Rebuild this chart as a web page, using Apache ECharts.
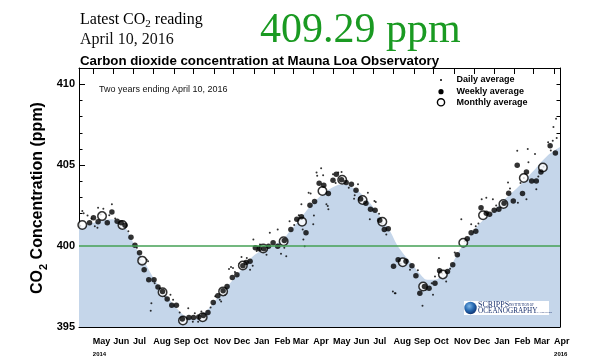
<!DOCTYPE html>
<html>
<head>
<meta charset="utf-8">
<script src="https://cdn.jsdelivr.net/npm/echarts@6/dist/echarts.min.js"></script>
<style>
html,body{margin:0;padding:0;background:#fff;}
#chart{width:600px;height:360px;}
</style>
</head>
<body>
<div id="chart"></div>
<script>
// ---------------- data ----------------
const xStart = '2014-04-10';
const xEnd = '2016-04-10';
const yMin = 395;
const yMax = 411;
const yTickLabels = [395, 400, 405, 410];
const monthNames = ['Jan','Feb','Mar','Apr','May','Jun','Jul','Aug','Sep','Oct','Nov','Dec'];
const yearMarks = [['2014-05', '2014'], ['2016-04', '2016']];
const referenceLevel = 400;
const latestValue = '409.29 ppm';
const latestDate = 'April 10, 2016';

// smooth fit curve (upper edge of blue area)
const fitCurve = [
  ['2014-04-10',401.15],['2014-05-04',401.46],['2014-05-30',401.65],['2014-06-19',401.15],
  ['2014-07-04',400.00],['2014-07-19',398.98],['2014-08-03',397.92],['2014-08-19',397.05],
  ['2014-09-03',396.26],['2014-09-18',395.68],['2014-10-03',395.50],['2014-10-18',395.87],
  ['2014-10-31',396.49],['2014-11-15',397.17],['2014-11-30',397.92],['2014-12-15',398.66],
  ['2014-12-30',399.35],['2015-01-15',399.78],['2015-01-30',400.03],['2015-02-14',400.40],
  ['2015-02-24',400.90],['2015-03-09',401.52],['2015-03-27',402.45],['2015-04-19',403.32],
  ['2015-05-04',403.70],['2015-05-15',403.82],['2015-05-30',403.63],['2015-06-19',403.00],
  ['2015-07-11',401.85],['2015-07-27',400.90],['2015-08-06',400.09],['2015-08-18',399.41],
  ['2015-08-31',398.79],['2015-09-10',398.29],['2015-09-21',397.92],['2015-10-03',397.92],
  ['2015-10-15',398.23],['2015-10-29',398.91],['2015-11-10',399.78],['2015-11-25',400.65],
  ['2015-12-10',401.40],['2015-12-29',402.08],['2016-01-17',402.89],['2016-02-09',403.76],
  ['2016-03-03',404.75],['2016-03-23',405.62],['2016-04-10',406.12]
];

const monthlyAvg = [
  ['2014-04-15',401.30],['2014-05-15',401.85],['2014-06-15',401.30],['2014-07-15',399.10],
  ['2014-08-15',397.15],['2014-09-15',395.40],['2014-10-15',395.60],['2014-11-15',397.20],
  ['2014-12-15',398.80],['2015-01-15',399.85],['2015-02-15',400.30],['2015-03-15',401.50],
  ['2015-04-15',403.40],['2015-05-15',404.10],['2015-06-15',402.85],['2015-07-15',401.50],
  ['2015-08-15',399.00],['2015-09-15',397.50],['2015-10-15',398.25],['2015-11-15',400.20],
  ['2015-12-15',401.90],['2016-01-15',402.60],['2016-02-15',404.20],['2016-03-15',404.85]
];

const weeklyAvg = [
  ['2014-04-26',401.44],['2014-05-02',401.75],['2014-05-09',401.50],['2014-05-23',401.44],
  ['2014-05-30',402.10],['2014-06-07',401.54],['2014-06-13',401.44],['2014-06-19',401.29],
  ['2014-06-28',400.55],['2014-07-04',400.05],['2014-07-11',399.58],['2014-07-18',398.54],
  ['2014-07-25',397.92],['2014-08-02',397.92],['2014-08-08',397.47],['2014-08-15',397.19],
  ['2014-08-22',396.73],['2014-08-29',396.35],['2014-09-05',396.34],['2014-09-14',395.50],
  ['2014-09-24',395.58],['2014-10-01',395.58],['2014-10-09',395.62],['2014-10-16',395.71],
  ['2014-10-23',395.89],['2014-10-31',396.51],['2014-11-07',396.93],['2014-11-15',397.24],
  ['2014-11-21',397.50],['2014-11-29',398.06],['2014-12-06',398.23],['2014-12-15',398.79],
  ['2014-12-20',398.99],['2014-12-26',399.06],['2015-01-03',399.89],['2015-01-09',399.83],
  ['2015-01-16',399.84],['2015-01-23',399.99],['2015-01-30',400.20],['2015-02-06',399.99],
  ['2015-02-16',400.34],['2015-02-26',401.02],['2015-03-07',401.65],['2015-03-14',401.81],
  ['2015-03-21',400.82],['2015-03-27',402.52],['2015-04-03',402.75],['2015-04-10',403.88],
  ['2015-04-17',403.76],['2015-04-24',403.24],['2015-05-01',404.07],['2015-05-06',404.44],
  ['2015-05-14',404.10],['2015-05-21',403.93],['2015-05-29',403.82],['2015-06-05',403.45],
  ['2015-06-12',402.90],['2015-06-20',402.64],['2015-06-27',402.27],['2015-07-04',402.22],
  ['2015-07-11',401.60],['2015-07-18',401.02],['2015-07-24',401.07],['2015-08-01',398.75],
  ['2015-08-08',399.16],['2015-08-20',399.06],['2015-08-29',398.79],['2015-09-04',398.17],
  ['2015-09-10',397.09],['2015-09-17',397.50],['2015-09-24',397.40],['2015-10-03',397.71],
  ['2015-10-10',398.48],['2015-10-22',398.43],['2015-10-30',398.85],['2015-11-06',399.47],
  ['2015-11-21',400.45],['2015-11-27',400.82],['2015-12-04',400.92],['2015-12-12',402.37],
  ['2015-12-20',402.02],['2015-12-25',401.96],['2016-01-01',402.22],['2016-01-08',402.27],
  ['2016-01-16',402.64],['2016-01-23',403.26],['2016-01-30',402.78],['2016-02-05',405.00],
  ['2016-02-13',403.24],['2016-02-19',404.58],['2016-02-27',404.02],['2016-03-05',404.02],
  ['2016-03-12',404.58],['2016-03-26',406.20],['2016-04-03',405.75]
];

const dailyAvg = [
  ['2014-04-12',401.25],['2014-04-15',402.16],['2014-04-17',402.02],['2014-04-23',401.89],
  ['2014-04-29',401.70],['2014-05-04',401.23],['2014-05-08',401.13],['2014-05-09',402.37],
  ['2014-05-13',401.95],['2014-05-17',402.31],['2014-05-26',401.90],['2014-05-30',402.58],
  ['2014-06-04',401.70],['2014-06-12',401.13],['2014-06-16',401.45],['2014-06-24',400.92],
  ['2014-07-07',399.90],['2014-07-11',399.16],['2014-07-15',398.90],['2014-07-22',399.16],
  ['2014-07-24',399.06],['2014-07-28',396.01],['2014-07-29',396.47],['2014-08-03',397.71],
  ['2014-08-11',397.40],['2014-08-18',396.90],['2014-08-27',396.99],['2014-08-31',396.68],
  ['2014-09-10',395.90],['2014-09-19',395.50],['2014-09-23',396.16],['2014-09-30',395.33],
  ['2014-10-03',395.85],['2014-10-08',395.33],['2014-10-13',395.95],['2014-10-19',395.50],
  ['2014-10-27',396.20],['2014-11-03',396.90],['2014-11-10',396.68],['2014-11-12',396.57],
  ['2014-11-18',397.00],['2014-11-24',398.58],['2014-11-27',398.71],['2014-11-30',398.65],
  ['2014-12-03',398.40],['2014-12-10',398.90],['2014-12-13',399.33],['2014-12-21',399.27],
  ['2014-12-26',398.54],['2014-12-30',398.79],['2014-12-31',400.40],['2015-01-05',399.70],
  ['2015-01-10',400.09],['2015-01-13',400.00],['2015-01-20',399.47],['2015-01-25',400.82],
  ['2015-02-06',401.02],['2015-02-11',399.53],['2015-02-16',399.89],['2015-02-19',399.37],
  ['2015-02-24',401.54],['2015-03-03',401.30],['2015-03-10',401.90],['2015-03-14',402.58],
  ['2015-03-16',401.02],['2015-03-17',400.40],['2015-03-19',399.99],['2015-03-25',403.30],
  ['2015-03-28',403.24],['2015-04-01',401.34],['2015-04-02',401.89],['2015-04-06',404.55],
  ['2015-04-07',404.34],['2015-04-13',404.80],['2015-04-16',404.38],['2015-04-21',402.58],
  ['2015-04-23',402.47],['2015-04-24',402.27],['2015-05-01',404.44],['2015-05-05',403.90],
  ['2015-05-09',404.55],['2015-05-14',404.58],['2015-05-25',403.60],['2015-06-02',402.93],
  ['2015-06-03',403.14],['2015-06-08',403.82],['2015-06-14',402.90],['2015-06-23',403.30],
  ['2015-06-26',401.65],['2015-07-03',402.78],['2015-07-05',402.72],['2015-07-10',402.00],
  ['2015-07-14',401.40],['2015-07-21',400.71],['2015-07-31',397.19],['2015-08-03',397.09],
  ['2015-08-04',397.09],['2015-08-12',398.90],['2015-08-21',399.16],['2015-08-26',398.54],
  ['2015-09-07',398.50],['2015-09-14',396.32],['2015-09-19',397.30],['2015-09-28',397.71],
  ['2015-09-30',396.99],['2015-10-03',398.12],['2015-10-09',399.27],['2015-10-14',398.30],
  ['2015-10-20',397.81],['2015-10-26',398.60],['2015-11-02',399.60],['2015-11-12',401.65],
  ['2015-11-17',400.30],['2015-11-27',401.34],['2015-12-04',401.23],['2015-12-08',401.40],
  ['2015-12-13',402.89],['2015-12-20',402.99],['2015-12-30',402.89],['2016-01-04',402.50],
  ['2016-01-12',402.40],['2016-01-22',403.93],['2016-01-25',403.55],['2016-02-05',405.89],
  ['2016-02-06',402.68],['2016-02-10',403.90],['2016-02-15',404.20],['2016-02-19',402.89],
  ['2016-02-21',405.99],['2016-02-22',405.17],['2016-03-03',405.68],['2016-03-05',403.51],
  ['2016-03-08',404.30],['2016-03-16',404.90],['2016-03-23',406.41],['2016-03-27',405.90],
  ['2016-03-30',406.51],['2016-03-31',407.36],['2016-04-04',407.86],['2016-04-05',406.68]
];

// ---------------- chart ----------------
const DAY = 86400000;
const sans = "'Liberation Sans', Arial, Helvetica, sans-serif";
const serif = "'Liberation Serif', 'Times New Roman', Times, serif";

const yearLookup = {};
yearMarks.forEach(function (p) { yearLookup[p[0]] = p[1]; });

function monthLabel(value) {
  const d = new Date(value);
  if (d.getDate() !== 1) return '';
  const key = d.getFullYear() + '-' + String(d.getMonth() + 1).padStart(2, '0');
  const m = monthNames[d.getMonth()];
  if (yearLookup[key]) return '{m|' + m + '}\n{y|' + yearLookup[key] + '}';
  return '{m|' + m + '}';
}

const timeAxisBase = {
  type: 'time', min: xStart, max: xEnd, splitNumber: 24,
  minInterval: 28 * DAY, maxInterval: 31 * DAY,
  axisLine: { show: true, lineStyle: { color: '#000', width: 1 } },
  axisTick: { show: true, inside: true, length: 6, lineStyle: { color: '#000', width: 1 } },
  splitLine: { show: false }, minorTick: { show: false }
};

const chart = echarts.init(document.getElementById('chart'), null, { renderer: 'canvas' });

const option = {
  animation: false,
  backgroundColor: '#fff',
  grid: { left: 79, right: 40, top: 68, bottom: 33, containLabel: false },
  xAxis: [
    Object.assign({}, timeAxisBase, {
      position: 'bottom',
      axisLabel: {
        show: true, formatter: monthLabel, align: 'left', margin: 9, hideOverlap: false,
        fontSize: 9, fontWeight: 'bold', fontFamily: sans, color: '#000',
        rich: {
          m: { fontSize: 9, fontWeight: 'bold', fontFamily: sans, color: '#000', lineHeight: 11 },
          y: { fontSize: 6, fontWeight: 'bold', fontFamily: sans, color: '#000', lineHeight: 14 }
        }
      }
    }),
    Object.assign({}, timeAxisBase, { position: 'top', axisLabel: { show: false } })
  ],
  yAxis: [
    {
      type: 'value', min: yMin, max: yMax, interval: 1, position: 'left',
      axisLine: { show: true, lineStyle: { color: '#000', width: 1 } },
      axisTick: { show: true, inside: true, length: 3.5, lineStyle: { color: '#000' } },
      axisLabel: {
        show: true, margin: 4, fontSize: 11, fontWeight: 'bold', fontFamily: sans, color: '#000',
        formatter: function (v) { return yTickLabels.indexOf(v) >= 0 ? String(v) : ''; }
      },
      splitLine: { show: false }
    },
    {
      type: 'value', min: yMin, max: yMax, interval: 5, position: 'left',
      axisLine: { show: false },
      axisTick: { show: true, inside: true, length: 6, lineStyle: { color: '#000' } },
      axisLabel: { show: false }, splitLine: { show: false }
    },
    {
      type: 'value', min: yMin, max: yMax, interval: 1, position: 'right',
      axisLine: { show: true, lineStyle: { color: '#000', width: 1 } },
      axisTick: { show: true, inside: true, length: 3.5, lineStyle: { color: '#000' } },
      axisLabel: { show: false }, splitLine: { show: false }
    }
  ],
  series: [
    {
      type: 'line', name: 'fit', data: fitCurve, xAxisIndex: 0, yAxisIndex: 0,
      smooth: 0.35, symbol: 'none', silent: true, z: 1,
      lineStyle: { opacity: 0 },
      areaStyle: { color: '#c5d6ea', opacity: 1, origin: 'start' },
      markLine: {
        silent: true, symbol: 'none', label: { show: false },
        lineStyle: { color: '#45a055', width: 1.5, type: 'solid' },
        data: [{ yAxis: referenceLevel }]
      }
    },
    {
      type: 'scatter', name: 'Daily average', data: dailyAvg, xAxisIndex: 0, yAxisIndex: 0,
      symbol: 'circle', symbolSize: 2, itemStyle: { color: '#000' }, z: 2, silent: true
    },
    {
      type: 'scatter', name: 'Monthly average', data: monthlyAvg, xAxisIndex: 0, yAxisIndex: 0,
      symbol: 'circle', symbolSize: 8.5,
      itemStyle: { color: '#fff', borderColor: '#000', borderWidth: 1.5 }, z: 3, silent: true
    },
    {
      type: 'scatter', name: 'Weekly average', data: weeklyAvg, xAxisIndex: 0, yAxisIndex: 0,
      symbol: 'circle', symbolSize: 5.5, itemStyle: { color: '#000' }, z: 4, silent: true
    }
  ],
  graphic: [
    {
      type: 'text', x: 80, y: 19.5,
      style: {
        text: '{a|Latest CO}{b|2}{a| reading}', align: 'left', verticalAlign: 'middle',
        rich: {
          a: { fontFamily: serif, fontSize: 16, color: '#111', lineHeight: 20 },
          b: { fontFamily: serif, fontSize: 11, color: '#111', lineHeight: 4, verticalAlign: 'bottom' }
        }
      }
    },
    {
      type: 'text', x: 80, y: 40,
      style: { text: latestDate, fontFamily: serif, fontSize: 16, fill: '#111', align: 'left', verticalAlign: 'middle' }
    },
    {
      type: 'text', x: 260, y: 31,
      style: { text: latestValue, fontFamily: serif, fontSize: 42, fill: '#1a9a22', align: 'left', verticalAlign: 'middle' }
    },
    {
      type: 'text', x: 80, y: 61,
      style: { text: 'Carbon dioxide concentration at Mauna Loa Observatory', fontFamily: sans, fontSize: 13.3, fontWeight: 'bold', fill: '#000', align: 'left', verticalAlign: 'middle' }
    },
    {
      type: 'text', x: 99, y: 89.5,
      style: { text: 'Two years ending April 10, 2016', fontFamily: sans, fontSize: 9, fill: '#111', align: 'left', verticalAlign: 'middle' }
    },
    {
      type: 'text', x: 38, y: 198, rotation: Math.PI / 2,
      style: {
        text: '{a|CO}{b|2}{a| Concentration (ppm)}', align: 'center', verticalAlign: 'middle',
        rich: {
          a: { fontFamily: sans, fontSize: 16, fontWeight: 'bold', color: '#000', lineHeight: 22 },
          b: { fontFamily: sans, fontSize: 11, fontWeight: 'bold', color: '#000', lineHeight: 2, verticalAlign: 'bottom' }
        }
      }
    },
    // legend
    { type: 'circle', shape: { cx: 441, cy: 80, r: 1 }, style: { fill: '#000' } },
    { type: 'circle', shape: { cx: 441, cy: 91.7, r: 2.6 }, style: { fill: '#000' } },
    { type: 'circle', shape: { cx: 441, cy: 102.3, r: 3.6 }, style: { fill: '#fff', stroke: '#000', lineWidth: 1.4 } },
    { type: 'text', x: 456.5, y: 80, style: { text: 'Daily average', fontFamily: sans, fontSize: 9, fontWeight: 'bold', fill: '#000', verticalAlign: 'middle' } },
    { type: 'text', x: 456.5, y: 91.7, style: { text: 'Weekly average', fontFamily: sans, fontSize: 9, fontWeight: 'bold', fill: '#000', verticalAlign: 'middle' } },
    { type: 'text', x: 456.5, y: 102.3, style: { text: 'Monthly average', fontFamily: sans, fontSize: 9, fontWeight: 'bold', fill: '#000', verticalAlign: 'middle' } },
    // Scripps logo
    { type: 'rect', shape: { x: 464, y: 301, width: 85, height: 14 }, style: { fill: '#fff' }, z: 50 },
    {
      type: 'circle', shape: { cx: 470.5, cy: 308, r: 6.2 }, z: 51,
      style: {
        fill: new echarts.graphic.RadialGradient(0.4, 0.35, 0.7, [
          { offset: 0, color: '#7fb6e6' }, { offset: 0.5, color: '#2a6db5' }, { offset: 1, color: '#0b2d6b' }
        ])
      }
    },
    { type: 'text', x: 478, y: 304.5, z: 52, style: { text: 'SCRIPPS', fontFamily: serif, fontSize: 8, fill: '#1d3470', verticalAlign: 'middle' } },
    { type: 'text', x: 509, y: 305, z: 52, style: { text: 'INSTITUTION OF', fontFamily: serif, fontSize: 3.2, fill: '#1d3470', verticalAlign: 'middle' } },
    { type: 'text', x: 478, y: 311.3, z: 52, style: { text: 'OCEANOGRAPHY', fontFamily: serif, fontSize: 7.2, fill: '#1d3470', verticalAlign: 'middle' } },
    { type: 'text', x: 535.5, y: 311.8, z: 52, style: { text: 'UC San Diego', fontFamily: serif, fontSize: 2.8, fill: '#1d3470', verticalAlign: 'middle' } }
  ]
};

chart.setOption(option);
</script>
</body>
</html>
